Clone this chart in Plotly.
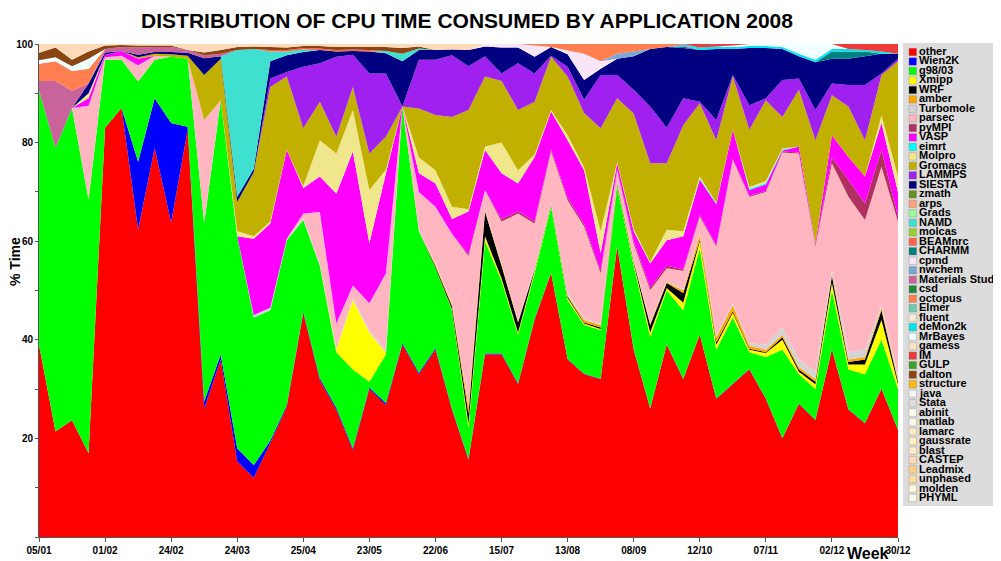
import plotly.graph_objects as go

N_WEEKS = 53
weeks = list(range(N_WEEKS))
tick_pos = [0, 4, 8, 12, 16, 20, 24, 28, 32, 36, 40, 44, 48, 52]
tick_labels = ["05/01", "01/02", "24/02", "24/03", "25/04", "23/05", "22/06",
               "15/07", "13/08", "08/09", "12/10", "07/11", "02/12", "30/12"]

other = [39, 21.4, 23.7, 17, 83, 87, 62.3, 78.9, 63.8, 82.6, 26, 36, 15.3, 12, 19, 26.4, 45.4, 31.8,
         25.8, 17.6, 30, 26.8, 39, 33, 38, 25.8, 15.6, 37, 37, 31, 44, 53.5, 36, 33, 32, 58.9, 38, 26,
         39, 32, 41, 28, 31, 34, 28, 20, 27, 23.7, 38, 25.8, 23, 30, 21.7]
wien2k = [0, 0, 0, 0, 0, 0, 13.8, 10.1, 20.2, 0.6, 1.5, 1, 2.7, 2.6, 0.5, 0.4, 0.3, 0.4, 0.4, 0.4,
          0.3, 0.4, 0.3, 0.3, 0.3, 0.2, 0.2, 0.2, 0.2, 0.2, 0.2, 0.1, 0.1, 0.1, 0.1, 0.1, 0.1, 0.1,
          0.1, 0.1, 0.1, 0.1, 0.1, 0.1, 0.1, 0.1, 0.1, 0.1, 0.1, 0.1, 0.1, 0.1, 0.1]
g98 = [51.5, 57.5, 63.3, 51.4, 13.8, 9.8, 16.3, 7.8, 13.4, 13.8, 36.2, 51.6, 43, 29.9, 26.5, 33.4,
       18.6, 22.8, 11.3, 16, 1.2, 9.8, 48, 28.7, 16.3, 20, 6.2, 22.8, 14.8, 9.8, 9.3, 13.4, 11.9, 9.9,
       9.9, 12, 16.9, 14.4, 10.9, 13.9, 17.4, 9.9, 13.4, 3.4, 8.4, 17.9, 5.9, 6.2, 11.9, 8.1, 9.9,
       9.9, 8.2]
xmipp = [0, 0, 0, 0, 0, 0, 0, 0, 0, 0, 0, 0, 0, 0, 0, 0, 0, 0, 0.5, 14, 10, 0.3, 0, 0, 0, 0.2, 1, 1,
         0.5, 0.5, 0.5, 0.3, 0.5, 0.3, 0.2, 0.3, 0.5, 1, 0.5, 1.5, 1.5, 1, 1, 0.5, 0.8, 2, 0.5, 1,
         1.5, 1, 2, 4, 1]
wrf = [0, 0, 0, 0, 0, 0, 0, 0, 0, 0, 0, 0, 0, 0, 0, 0, 0, 0, 0, 0, 0, 0, 0, 0, 0.3, 0.6, 2, 5, 2.5,
       2, 0.2, 0.2, 0.3, 0.2, 0.3, 0.3, 0.3, 1.5, 1, 2, 0.3, 0.5, 0.3, 0.2, 0.2, 0.5, 0.5, 0.5, 1.5,
       0.5, 1, 2, 0.5]
amber = [0, 0, 0, 0, 0, 0, 0, 0, 0, 0, 0, 0, 0, 0, 0, 0, 0, 0, 0, 0, 0, 0, 0, 0, 0.3, 0.4, 1.5, 0.3,
         0.3, 0.3, 0, 0, 0.2, 0.5, 0.5, 0.2, 0.2, 0.3, 0.3, 0.5, 1, 1, 1.2, 0.6, 0.5, 0.5, 0.5, 0.5,
         0.3, 0.5, 0.5, 0.5, 0.5]
turbomole = [0, 0, 0, 0, 0, 0, 0, 0, 0, 0, 0, 0, 0, 0.5, 0.5, 0.3, 0.3, 0.3, 0.3, 0.5, 0.5, 0.5, 0,
             0.3, 0.3, 0.3, 0.5, 0.2, 0.3, 0.2, 0.3, 0.3, 0.5, 0.3, 0.3, 0.2, 0.3, 0.2, 0.2, 0.3, 0.3,
             0.5, 0.4, 0.5, 1, 1.5, 1.5, 1.5, 0.7, 1.5, 1.5, 0.5, 1]
parsec = [0, 0, 0, 19.1, 0.5, 0.8, 3.3, 0.8, 0, 0, 20.9, 0, 0, 0, 0, 0, 1, 10.6, 5, 2.5, 5.4, 15.7,
          0, 7.7, 11.5, 14, 30, 3.9, 8.4, 21.6, 9.1, 10.4, 18.8, 18.7, 10.2, 2.4, 3.2, 6.6, 2.5, 3.7,
          3.4, 17.9, 29.1, 29.7, 31, 35.5, 41.8, 25.4, 21.8, 31.5, 26.3, 28.1, 31]
pympi = [0, 0, 0, 0, 0, 0, 0, 0, 0, 0, 0, 0, 0, 0, 0, 0, 0, 0, 0, 0, 0, 0, 0, 0, 0, 0, 0.3, 0, 0.5,
         0.4, 0.4, 0.4, 0.5, 0.5, 0.5, 0.2, 0.5, 0.5, 0.5, 0.3, 0.3, 0.3, 0.2, 0.2, 0.2, 0.2, 0.2, 0.2,
         1.2, 3.4, 3.4, 3.4, 1]
vasp = [0, 0, 0, 1.5, 0.5, 1, 1.3, 0, 0, 0, 0, 0, 0, 15.5, 17.1, 18, 5.2, 7.2, 26.3, 27.2, 12.2,
        20.3, 0, 3.8, 4.7, 3, 8.7, 8.1, 9.3, 5.7, 13.1, 7.7, 11.7, 10.9, 3.6, 1.2, 2, 4.9, 5.2, 6.7,
        7.2, 8.3, 5.9, 1.2, 1.3, 0.2, 1.2, 0.4, 4.5, 4.7, 5.4, 5.5, 5]
eimrt = [0, 0, 0, 0, 0, 0, 0, 0, 0, 0, 0, 0, 0, 0, 0, 0, 0, 0, 0, 0, 0, 0, 0, 0, 0, 0, 0, 0, 0, 0, 0,
         0, 0, 0, 0, 0, 0, 0, 0, 0, 0.2, 0.2, 0, 0.3, 0.3, 0.2, 0, 0, 0, 0, 0, 0, 0]
molpro = [0, 0, 0, 1, 0, 0, 0, 0, 0, 0, 0, 0, 1, 0.5, 0.4, 0, 0.4, 7.4, 8.2, 8.4, 10.8, 0.7, 0, 3.2,
          2.7, 2.5, 0.5, 0.7, 6.2, 2.7, 0.5, 0.3, 1, 0.6, 4.4, 0.2, 0.5, 0.3, 2.1, 1, 0.4, 0.1, 0, 0.3,
          0.4, 0.2, 0, 0, 0, 0, 0, 1.5, 3.1]
gromacs = [0, 0, 0, 0, 0, 0, 0.3, 0.4, 0.5, 0.6, 9.1, 8.4, 6, 13, 27.3, 14.9, 11.7, 7.8, 3.4, 4.7,
           7.4, 6.7, 0, 9.9, 11.2, 18.2, 20.1, 14.2, 12.5, 12.2, 10.7, 10.8, 11.9, 11, 20.9, 13, 23.4,
           20, 13.5, 21.5, 14.9, 12.7, 10.8, 11.6, 16.4, 6.4, 11.5, 21, 8.1, 10.2, 7.4, 8.2, 23.4]
lammps = [0, 0, 0, 0, 0, 0, 0, 0, 0, 0, 0, 0, 0, 0, 1.7, 0.9, 12.5, 7.8, 16.2, 6.5, 16.2, 12.8, 0,
          9.9, 11.2, 12.5, 8.9, 4.1, 1.5, 9.5, 5.7, 0.2, 2, 2.7, 10.8, 4.7, 4.8, 11.5, 7.2, 5.5, 0.3,
          4.1, 0.3, 5, 0.4, 7.5, 2.3, 6.1, 2.4, 4.4, 11.2, 0.3, 0.5]
siesta = [0, 0, 0, 2, 0.5, 0, 0.5, 0.4, 0.5, 0.6, 3.4, 0.5, 1, 0.7, 3.5, 3.4, 3, 2.7, 1.1, 0.8, 4.5,
          4.1, 9.2, 2, 2, 1.2, 3.3, 2, 5.3, 3.2, 3.4, 1.8, 2.5, 4, 1.3, 3.3, 6.8, 11.7, 16.4, 10.2,
          10.5, 14.4, 5.3, 11.6, 10.2, 6.3, 4.5, 9.7, 5, 5.3, 5.8, 4, 1]
zmath = [0, 0, 0, 0, 0, 0, 0, 0, 0, 0, 0, 0, 0, 0, 0, 0, 0, 0, 0, 0, 0, 0, 0, 0, 0, 0, 0, 0, 0, 0, 0,
         0, 0, 0, 0, 0, 0, 0, 0, 0, 0, 0, 0, 0, 0, 0, 0, 0, 0, 0, 0, 0, 0]
arps = [0, 0, 0, 0, 0, 0, 0, 0, 0, 0, 0, 0, 0, 0, 0, 0, 0, 0, 0, 0, 0, 0, 0, 0, 0, 0, 0, 0, 0, 0, 0,
        0, 0, 0, 0, 0, 0, 0, 0, 0, 0, 0, 0, 0, 0, 0, 0, 0, 0, 0, 0, 0, 0]
grads = [0, 0, 0, 0, 0, 0, 0, 0, 0, 0, 0, 0, 0, 0, 0, 0, 0, 0, 0, 0, 0, 0, 0, 0, 0, 0, 0, 0, 0, 0, 0,
         0, 0, 0, 0, 0, 0, 0, 0, 0, 0, 0, 0, 0, 0, 0, 0, 0, 0, 0, 0, 0, 0]
namd = [0, 0, 0, 0, 0, 0, 0, 0, 0, 0, 0, 0, 29.8, 24.3, 2, 0.8, 0.5, 0, 0, 0, 0, 0.5, 1.5, 0.3, 0, 0,
        0, 0, 0, 0, 0, 0, 0, 0, 0, 0, 0, 0, 0, 0, 0, 0, 0, 0, 0, 0, 0, 0, 0, 0, 0, 0, 0]
molcas = [0, 0, 0, 0, 0, 0, 0, 0, 0, 0, 0, 0, 0, 0, 0, 0, 0, 0, 0, 0, 0, 0, 0, 0, 0, 0, 0, 0, 0, 0, 0,
          0, 0, 0, 0, 0, 0, 0, 0, 0, 0, 0, 0, 0, 0, 0, 0, 0, 0, 0, 0, 0, 0]
beamnrc = [0, 0, 0, 0, 0, 0, 0, 0, 0, 0, 0, 0, 0, 0, 0.3, 0.3, 0.3, 0.3, 0.3, 0.3, 0.3, 0, 0, 0, 0, 0,
           0, 0, 0, 0, 0, 0, 0, 0, 0, 0, 0, 0, 0, 0, 0, 0, 0, 0, 0, 0, 0, 0, 0, 0, 0, 0, 0]
charmm = [0, 0, 0, 0, 0, 0, 0, 0, 0, 0, 0, 0, 0, 0, 0, 0, 0, 0, 0, 0, 0, 0, 0, 0, 0, 0, 0, 0, 0, 0, 0,
          0, 0, 0, 0, 0, 0, 0, 0, 0.3, 0, 0, 0, 0, 0, 0, 0, 0, 1.5, 1.5, 1, 0, 0]
cpmd = [0, 0, 0, 0, 0, 0, 0, 0, 0, 0, 0, 0, 0, 0, 0, 0, 0, 0, 0, 0, 0, 0, 0, 0, 0, 0, 0, 0.5, 0.7,
        0.7, 2.3, 0, 0.8, 5.3, 1.5, 0, 0, 0, 0, 0, 0, 0, 0, 0, 0, 0, 0, 0, 0, 0, 0, 0, 0]
nwchem = [0, 0, 0, 0, 0, 0, 0, 0, 0, 0, 0, 0, 0, 0, 0, 0, 0, 0, 0, 0, 0, 0, 0, 0, 0, 0, 0, 0, 0, 0, 0,
          0, 0, 0, 0, 1, 1, 0, 0, 0.5, 0, 0, 0, 0, 0, 0, 0, 0, 0, 0, 0, 0, 0]
matstudio = [2, 13.6, 3.5, 0, 0.7, 0.8, 1.5, 1, 1, 0.6, 0.6, 0.5, 0, 0, 0, 0, 0, 0, 0, 0, 0, 0, 0, 0,
             0, 0, 0, 0, 0, 0, 0, 0, 0, 0, 0, 0, 0, 0, 0, 0, 0, 0, 0, 0, 0, 0, 0, 0, 0, 0, 0, 0, 0]
csd = [0, 0, 0, 0, 0, 0, 0, 0, 0, 0, 0, 0, 0, 0, 0, 0, 0, 0, 0, 0, 0, 0, 0, 0, 0, 0, 0, 0, 0, 0, 0,
       0, 0, 0, 0, 0, 0, 0, 0, 0, 0, 0, 0, 0, 0, 0, 0, 0, 0, 0, 0, 0, 0]
octopus = [3.5, 4, 4, 3, 0, 0, 0, 0, 0, 0, 0, 0, 0, 0, 0, 0, 0, 0, 0, 0, 0, 0, 0, 0, 0, 0, 0, 0, 0, 0,
           0.3, 0.6, 1.3, 2, 3.5, 2, 1.5, 1, 0.6, 0, 0, 0, 0, 0, 0, 0, 0, 0, 0, 0, 0, 0, 0]
elmer = [0, 0, 0, 0, 0, 0, 0, 0, 0, 0, 0, 0, 0, 0, 0, 0, 0, 0, 0, 0, 0, 0, 0, 0, 0, 0, 0, 0, 0, 0, 0,
         0, 0, 0, 0, 0, 0, 0, 0, 0, 0, 0, 0, 0, 0, 0, 0, 0, 0, 0, 0, 0, 0]
fluent = [0, 0, 0, 0, 0, 0, 0, 0, 0, 0, 0, 0, 0, 0, 0, 0, 0, 0, 0, 0, 0, 0, 0, 0, 0, 0, 0, 0, 0, 0, 0,
          0, 0, 0, 0, 0, 0, 0, 0, 0, 0, 0, 0, 0, 0, 0, 0, 0, 0, 0, 0, 0, 0]
demon2k = [0, 0, 0, 0, 0, 0, 0, 0, 0, 0, 0, 0, 0, 0, 0, 0, 0, 0, 0, 0, 0, 0, 0, 0, 0, 0, 0, 0, 0, 0,
           0, 0, 0, 0, 0, 0, 0, 0, 0, 0, 0.5, 0.5, 0.4, 0.4, 0.4, 0.4, 0.5, 0.5, 0.5, 0.5, 0.3, 0.5, 0]
mrbayes = [0.7, 0.8, 1, 2, 0, 0, 0, 0, 0, 0, 0, 0, 0, 0, 0, 0, 0, 0, 0, 0, 0, 0, 0, 0, 0, 0, 0, 0, 0,
           0, 0, 0, 0, 0, 0, 0, 0, 0, 0, 0, 0, 0, 0.3, 0.4, 0.4, 0.6, 2, 3.2, 1, 0, 0, 0, 0]
gamess = [0, 0, 0, 0, 0, 0, 0, 0, 0, 0, 0, 0, 0, 0, 0, 0, 0, 0, 0, 0, 0, 0, 0, 0, 0, 0, 0, 0, 0, 0, 0,
          0, 0, 0, 0, 0, 0, 0, 0, 0, 0, 0, 0, 0, 0, 0, 0, 0, 0, 0, 0, 0, 0]
im = [0, 0, 0, 0, 0, 0, 0, 0, 0, 0, 0, 0, 0, 0, 0, 0, 0, 0, 0, 0, 0, 0, 0, 0, 0, 0, 0, 0, 0, 0, 0, 0,
      0, 0, 0, 0, 0, 0, 0, 0, 0.7, 0.5, 0.3, 0, 0, 0, 0, 0, 0, 1, 1.2, 1.5, 2]
gulp = [0, 0, 0, 0, 0, 0, 0, 0, 0, 0, 0, 0, 0, 0, 0, 0, 0, 0, 0, 0, 0, 0, 0, 0, 0, 0, 0, 0, 0, 0, 0,
        0, 0, 0, 0, 0, 0, 0, 0, 0, 0, 0, 0, 0, 0, 0, 0, 0, 0, 0, 0, 0, 0]
dalton = [1.5, 2, 1.3, 1.5, 0.7, 0.4, 0.4, 0.3, 0.3, 0, 0.6, 0.8, 0.6, 0.5, 0.6, 0.5, 0.4, 0.5, 0.6,
          0.5, 0.6, 0.8, 1.2, 0.4, 0, 0, 0, 0, 0, 0, 0, 0, 0, 0, 0, 0, 0, 0, 0, 0, 0, 0, 0, 0, 0, 0,
          0, 0, 0, 0, 0, 0, 0]
structure = [0, 0, 0, 0, 0, 0, 0, 0, 0, 0, 0, 0, 0, 0, 0, 0, 0, 0, 0, 0, 0, 0, 0, 0, 0, 0, 0, 0, 0, 0,
             0, 0, 0, 0, 0, 0, 0, 0, 0, 0, 0, 0, 0, 0, 0, 0, 0, 0, 0, 0, 0, 0, 0]
java = [0, 0, 0, 0, 0, 0, 0, 0, 0, 0, 0, 0, 0, 0, 0, 0, 0, 0, 0, 0, 0, 0, 0, 0, 0, 0, 0, 0, 0, 0, 0,
        0, 0, 0, 0, 0, 0, 0, 0, 0, 0, 0, 0, 0, 0, 0, 0, 0, 0, 0, 0, 0, 0]
stata = [0, 0, 0, 0, 0, 0, 0, 0, 0, 0, 0, 0, 0, 0, 0, 0, 0, 0, 0, 0, 0, 0, 0, 0, 0, 0, 0, 0, 0, 0, 0,
         0, 0, 0, 0, 0, 0, 0, 0, 0, 0, 0, 0, 0, 0, 0, 0, 0, 0, 0, 0, 0, 0]
abinit = [0, 0, 0, 0, 0, 0, 0, 0, 0, 0, 0, 0, 0, 0, 0, 0, 0, 0, 0, 0, 0, 0, 0, 0, 0, 0, 0, 0, 0, 0, 0,
          0, 0, 0, 0, 0, 0, 0, 0, 0, 0, 0, 0, 0, 0, 0, 0, 0, 0, 0, 0, 0, 0]
matlab = [0, 0, 0, 0, 0, 0, 0, 0, 0, 0, 0, 0, 0, 0, 0, 0, 0, 0, 0, 0, 0, 0, 0, 0, 0, 0, 0, 0, 0, 0, 0,
          0, 0, 0, 0, 0, 0, 0, 0, 0, 0, 0, 0, 0, 0, 0, 0, 0, 0, 0, 0, 0, 0]
lamarc = [0, 0, 0, 0, 0, 0, 0, 0, 0, 0, 0, 0, 0, 0, 0, 0, 0, 0, 0, 0, 0, 0, 0, 0, 0, 0, 0, 0, 0, 0, 0,
          0, 0, 0, 0, 0, 0, 0, 0, 0, 0, 0, 0, 0, 0, 0, 0, 0, 0, 0, 0, 0, 0]
gaussrate = [0, 0, 0, 0, 0, 0, 0, 0, 0, 0, 0, 0, 0, 0, 0, 0, 0, 0, 0, 0, 0, 0, 0, 0, 0, 0, 0, 0, 0, 0,
             0, 0, 0, 0, 0, 0, 0, 0, 0, 0, 0, 0, 0, 0, 0, 0, 0, 0, 0, 0, 0, 0, 0]
blast = [0, 0, 0, 0, 0, 0, 0, 0, 0, 0, 0, 0, 0, 0, 0, 0, 0, 0, 0, 0, 0, 0, 0, 0, 0, 0, 0, 0, 0, 0, 0,
         0, 0, 0, 0, 0, 0, 0, 0, 0, 0, 0, 0, 0, 0, 0, 0, 0, 0, 0, 0, 0, 0]
castep = [1.8, 0.7, 3.2, 1.5, 0.3, 0.2, 0.3, 0.3, 0.3, 1.2, 1.7, 1.2, 0.6, 0.5, 0.6, 0.7, 0.4, 0.4,
          0.6, 0.6, 0.6, 0.6, 0.8, 0.5, 1.2, 1.1, 1.2, 0, 0, 0, 0, 0, 0, 0, 0, 0, 0, 0, 0, 0, 0, 0, 0,
          0, 0, 0, 0, 0, 0, 0, 0, 0, 0]
leadmix = [0, 0, 0, 0, 0, 0, 0, 0, 0, 0, 0, 0, 0, 0, 0, 0, 0, 0, 0, 0, 0, 0, 0, 0, 0, 0, 0, 0, 0, 0,
           0, 0, 0, 0, 0, 0, 0, 0, 0, 0, 0, 0, 0, 0, 0, 0, 0, 0, 0, 0, 0, 0, 0]
unphased = [0, 0, 0, 0, 0, 0, 0, 0, 0, 0, 0, 0, 0, 0, 0, 0, 0, 0, 0, 0, 0, 0, 0, 0, 0, 0, 0, 0, 0, 0,
            0, 0, 0, 0, 0, 0, 0, 0, 0, 0, 0, 0, 0, 0, 0, 0, 0, 0, 0, 0, 0, 0, 0]
molden = [0, 0, 0, 0, 0, 0, 0, 0, 0, 0, 0, 0, 0, 0, 0, 0, 0, 0, 0, 0, 0, 0, 0, 0, 0, 0, 0, 0, 0, 0, 0,
          0, 0, 0, 0, 0, 0, 0, 0, 0, 0, 0, 0, 0, 0, 0, 0, 0, 0, 0, 0, 0, 0]
phyml = [0, 0, 0, 0, 0, 0, 0, 0, 0, 0, 0, 0, 0, 0, 0, 0, 0, 0, 0, 0, 0, 0, 0, 0, 0, 0, 0, 0, 0, 0, 0,
         0, 0, 0, 0, 0, 0, 0, 0, 0, 0, 0, 0, 0, 0, 0, 0, 0, 0, 0, 0, 0, 0]

series = [
    ("other", "#FF0000", other), ("Wien2K", "#0000FF", wien2k), ("g98/03", "#00FF00", g98),
    ("Xmipp", "#FFFF00", xmipp), ("WRF", "#000000", wrf), ("amber", "#FFA500", amber),
    ("Turbomole", "#D3D3D3", turbomole), ("parsec", "#FFB6C1", parsec), ("pyMPI", "#B03060", pympi),
    ("VASP", "#FF00FF", vasp), ("eimrt", "#00FFFF", eimrt), ("Molpro", "#F0E68C", molpro),
    ("Gromacs", "#C2B000", gromacs), ("LAMMPS", "#A020F0", lammps), ("SIESTA", "#000080", siesta),
    ("zmath", "#6B8E23", zmath), ("arps", "#FFA07A", arps), ("Grads", "#98FB98", grads),
    ("NAMD", "#40E0D0", namd), ("molcas", "#9ACD32", molcas), ("BEAMnrc", "#FF6347", beamnrc),
    ("CHARMM", "#008080", charmm), ("cpmd", "#F8E6F8", cpmd), ("nwchem", "#79A8D3", nwchem),
    ("Materials Studio", "#C8649B", matstudio), ("csd", "#208B3A", csd), ("octopus", "#FF7F50", octopus),
    ("Elmer", "#66CDAA", elmer), ("fluent", "#FAEBD7", fluent), ("deMon2k", "#00E5EE", demon2k),
    ("MrBayes", "#F0FFFF", mrbayes), ("gamess", "#FFE4C4", gamess), ("IM", "#EE3B3B", im),
    ("GULP", "#3CA02C", gulp), ("dalton", "#8B4513", dalton), ("structure", "#FFB90F", structure),
    ("java", "#F5F5F5", java), ("Stata", "#DCDCDC", stata), ("abinit", "#FFFFF0", abinit),
    ("matlab", "#FAF8EE", matlab), ("lamarc", "#FFE7C8", lamarc), ("gaussrate", "#FFF0C8", gaussrate),
    ("blast", "#FFEBCD", blast), ("CASTEP", "#FFDAB9", castep), ("Leadmix", "#FFD28C", leadmix),
    ("unphased", "#FFDCA0", unphased), ("molden", "#FFF8DC", molden), ("PHYML", "#F5FFE8", phyml),
]
for nm, _, v in series:
    assert len(v) == N_WEEKS, (nm, len(v))

FONT = "Liberation Sans, Arial, sans-serif"
fig = go.Figure()
for i, (name, color, vals) in enumerate(series):
    kw = dict(groupnorm="percent") if i == 0 else {}
    fig.add_trace(go.Scatter(x=weeks, y=vals, name=name, mode="none", stackgroup="one",
                             fillcolor=color, line=dict(width=0), showlegend=False,
                             hoverinfo="skip", **kw))

# The page body has an 8px margin; the figure is sized and placed to fill the window.
OFF = 8
WIN_W, WIN_H = 1001, 561
FIG_W, FIG_H = WIN_W - OFF, WIN_H - OFF
# plot area in window pixels
PL, PR, PT, PB = 39, 898, 44, 537
def px(p):
    return (p - PL) / (PR - PL)
def py(q):
    return (PB - q) / (PB - PT)

shapes = [dict(type="rect", xref="paper", yref="paper", x0=px(903), x1=px(1003), y0=py(506), y1=py(43),
               fillcolor="#DCDCDC", line=dict(width=0), layer="above")]
annotations = []
for i, (name, color, _) in enumerate(series):
    yc = 51.5 + 9.49 * i
    shapes.append(dict(type="rect", xref="paper", yref="paper", x0=px(909), x1=px(916.5),
                       y0=py(yc + 4.2), y1=py(yc - 3.2), fillcolor=color,
                       line=dict(width=0.5, color="rgba(110,110,110,0.6)"), layer="above"))
    annotations.append(dict(xref="paper", yref="paper", x=px(918), y=py(yc - 0.5), text="<b>%s</b>" % name,
                            showarrow=False, xanchor="left", yanchor="middle",
                            font=dict(family=FONT, size=11, color="black"), borderpad=0))

annotations.append(dict(xref="paper", yref="paper", x=px(868), y=py(553), text="<b>Week</b>",
                        showarrow=False, xanchor="center", yanchor="middle",
                        font=dict(family=FONT, size=16, color="black")))
annotations.append(dict(xref="paper", yref="paper", x=px(15), y=py(262), text="<b>% Time</b>",
                        showarrow=False, xanchor="center", yanchor="middle", textangle=-90,
                        font=dict(family=FONT, size=14, color="black")))

ytickvals = list(range(0, 101, 10))
yticktext = ["<b>%d</b>" % v if (v % 20 == 0 and v > 0) else "" for v in ytickvals]

fig.update_layout(
    width=FIG_W, height=FIG_H,
    margin=dict(l=PL - OFF, r=WIN_W - PR, t=PT - OFF, b=WIN_H - PB, pad=0, autoexpand=False),
    paper_bgcolor="white", plot_bgcolor="white", showlegend=False,
    title=dict(text="<b>DISTRIBUTION OF CPU TIME CONSUMED BY APPLICATION 2008</b>",
               x=(467 - OFF) / FIG_W, xanchor="center", y=1 - (21 - OFF) / FIG_H, yanchor="middle",
               font=dict(family=FONT, size=21, color="black")),
    xaxis=dict(range=[0, N_WEEKS - 1], tickvals=tick_pos, ticktext=["<b>%s</b>" % t for t in tick_labels],
               ticks="outside", ticklen=4, tickcolor="#555", showline=True, linecolor="#555",
               linewidth=1, showgrid=False, zeroline=False,
               tickfont=dict(family=FONT, size=10, color="black")),
    yaxis=dict(range=[0, 100], tickvals=ytickvals, ticktext=yticktext, ticks="outside", ticklen=3,
               tickcolor="#555", showline=True, linecolor="#555", linewidth=1, showgrid=False,
               zeroline=False, tickfont=dict(family=FONT, size=10, color="black")),
    shapes=shapes, annotations=annotations,
)
fig.write_html("out.html")
